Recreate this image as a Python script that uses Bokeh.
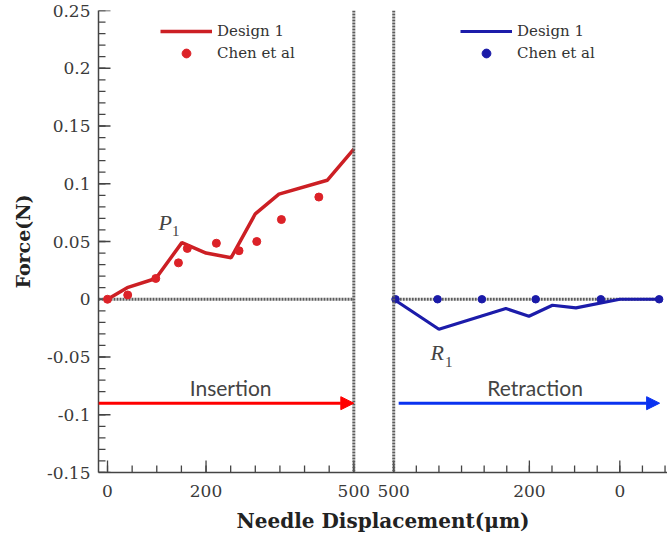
from bokeh.plotting import figure
from bokeh.models import (Range1d, FixedTicker, Span, Label, Arrow, NormalHead,
                          Legend, LegendItem, CustomJSTickFormatter)
from bokeh.embed import file_html
from bokeh.resources import INLINE
import numpy as np

# ---------------- data ----------------
# Insertion: displacement (um) and force (N)
INS_D = [0, 40, 98, 151, 200, 251, 300, 348, 446, 500]
INS_F = [0.0, 0.010, 0.018, 0.049, 0.040, 0.036, 0.074, 0.091, 0.103, 0.130]
CHEN_INS_D = [0, 41, 98, 144, 162, 221, 267, 303, 353, 429]
CHEN_INS_F = [0.0, 0.0037, 0.018, 0.0315, 0.044, 0.0485, 0.042, 0.050, 0.069, 0.0885]
# Retraction: displacement (um, decreasing) and force (N)
RET_D = [500, 400, 252, 201, 149, 97, 0, -87]
RET_F = [0.0, -0.026, -0.008, -0.0147, -0.0052, -0.0075, 0.0, 0.0]
CHEN_RET_D = [496, 403, 305, 186, 42, -87]
CHEN_RET_F = [0.0, 0.0, 0.0, 0.0, 0.0, 0.0]

X_TICK_VALUES = [0, 200, 500]
X_MINOR_LEFT = list(range(0, 501, 50))
X_MINOR_RIGHT = list(range(500, -101, -50))
Y_TICKS = [-0.15, -0.1, -0.05, 0, 0.05, 0.1, 0.15, 0.2, 0.25]

# ---------------- axis mapping for the two segments ----------------
X_MAX = 500
RIGHT_OFFSET = 581.0
RIGHT_SCALE = 0.918


def ret_x(ds):
    return [RIGHT_OFFSET + (X_MAX - d) * RIGHT_SCALE for d in ds]


RED_LINE = "#cc1f24"
RED_DOT = "#dc2228"
BLUE_LINE = "#1c1caa"
BLUE_DOT = "#1a1aa8"
DOT_GRAY = "#5c5c5c"
AX_GRAY = "#444444"
SERIF = "DejaVu Serif"
DASH = "2 1"

W, H = 667, 538
BL, BR, BT, BB = 98, 0, 10, 66
PX_PER_U = 0.4926
X0 = -18.3
X1 = X0 + (W - BL - BR) / PX_PER_U
Y0, Y1 = -0.15, 0.25
PX_PER_F = (H - BT - BB) / (Y1 - Y0)

p = figure(width=W, height=H, output_backend="svg", toolbar_location=None,
           x_range=Range1d(X0, X1), y_range=Range1d(Y0, Y1),
           min_border_left=BL, min_border_right=BR, min_border_top=BT,
           min_border_bottom=BB)
p.grid.visible = False
p.outline_line_color = None

# tick positions / labels
x_major = X_TICK_VALUES + ret_x(X_TICK_VALUES[::-1])
x_minor = X_MINOR_LEFT + ret_x(X_MINOR_RIGHT)
p.xaxis.ticker = FixedTicker(ticks=x_major)
p.xaxis.formatter = CustomJSTickFormatter(args=dict(off=RIGHT_OFFSET, sc=RIGHT_SCALE, xm=X_MAX), code="""
    const v = tick <= (xm + off) / 2 ? tick : xm - (tick - off) / sc;
    return Math.round(v).toString();
""")
y_minor = [float(v) for v in np.round(np.arange(Y0, Y1 + 1e-9, 0.01), 2)]
p.yaxis.ticker = FixedTicker(ticks=Y_TICKS)
p.yaxis.formatter = CustomJSTickFormatter(code="return parseFloat(tick.toFixed(2)).toString();")

for ax in (p.xaxis[0], p.yaxis[0]):
    ax.major_tick_in = 0
    ax.major_tick_out = 0
    ax.minor_tick_in = 0
    ax.minor_tick_out = 0
    ax.axis_line_color = AX_GRAY
    ax.axis_line_width = 1.5
    ax.major_label_text_font = SERIF
    ax.major_label_text_font_size = "17px"
    ax.major_label_text_color = "#3a3a3a"
    ax.axis_label_text_font = SERIF
    ax.axis_label_text_font_style = "bold"
    ax.axis_label_text_color = "#222222"

p.xaxis.major_label_standoff = 12
p.yaxis.major_label_standoff = 8
p.xaxis.axis_label = "Needle Displacement(μm)"
p.xaxis.axis_label_text_font_size = "20px"
p.xaxis.axis_label_standoff = 9
p.yaxis.axis_label = "Force(N)"
p.yaxis.axis_label_text_font_size = "19px"
p.yaxis.axis_label_standoff = 10

# inward ticks drawn as segments (lengths in px converted to data units)
MAJ, MIN = 12, 7
p.segment(x0=x_major, y0=[Y0] * len(x_major), x1=x_major,
          y1=[Y0 + MAJ / PX_PER_F] * len(x_major), line_color=AX_GRAY, line_width=1.3)
p.segment(x0=x_minor, y0=[Y0] * len(x_minor), x1=x_minor,
          y1=[Y0 + MIN / PX_PER_F] * len(x_minor), line_color=AX_GRAY, line_width=1.3)
p.segment(x0=[X0] * len(Y_TICKS), y0=Y_TICKS, x1=[X0 + MAJ / PX_PER_U] * len(Y_TICKS),
          y1=Y_TICKS, line_color=AX_GRAY, line_width=1.3)
p.segment(x0=[X0] * len(y_minor), y0=y_minor, x1=[X0 + MIN / PX_PER_U] * len(y_minor),
          y1=y_minor, line_color=AX_GRAY, line_width=1.3)

# dotted reference lines
for loc in (X_MAX, ret_x([X_MAX])[0]):
    p.add_layout(Span(location=loc, dimension="height", line_color=DOT_GRAY,
                      line_width=3, line_dash=DASH))
p.line([X0, X_MAX], [0, 0], line_color=DOT_GRAY, line_width=3, line_dash=DASH)
p.line(ret_x([X_MAX, CHEN_RET_D[-1]]), [0, 0], line_color=DOT_GRAY, line_width=3,
       line_dash=DASH)

# series
r_ins = p.line(INS_D, INS_F, line_color=RED_LINE, line_width=3.5)
r_cins = p.scatter(CHEN_INS_D, CHEN_INS_F, size=8, fill_color=RED_DOT, line_color=RED_DOT)
r_ret = p.line(ret_x(RET_D), RET_F, line_color=BLUE_LINE, line_width=3.2)
r_cret = p.scatter(ret_x(CHEN_RET_D), CHEN_RET_F, size=7.5, fill_color=BLUE_DOT,
                   line_color=BLUE_DOT)

# arrows
ARROW_Y = -0.09
p.add_layout(Arrow(x_start=X0, y_start=ARROW_Y, x_end=X_MAX, y_end=ARROW_Y,
                   line_color="#ff0000", line_width=3,
                   end=NormalHead(size=13, fill_color="#ff0000", line_color="#ff0000")))
rx = ret_x([489, -88])
p.add_layout(Arrow(x_start=rx[0], y_start=ARROW_Y, x_end=rx[1], y_end=ARROW_Y,
                   line_color="#0a32f0", line_width=3,
                   end=NormalHead(size=13, fill_color="#0a32f0", line_color="#0a32f0")))

# text annotations
SANS = "Lato"
p.add_layout(Label(x=250, y=-0.0765, text="Insertion", text_font=SANS,
                   text_font_size="21px", text_align="center", text_baseline="middle"))
p.add_layout(Label(x=868, y=-0.0765, text="Retraction", text_font=SANS,
                   text_font_size="21px", text_align="center", text_baseline="middle"))
p.add_layout(Label(x=103.5, y=0.056, text="P", text_font="Liberation Serif",
                   text_font_style="italic", text_font_size="22px"))
p.add_layout(Label(x=131, y=0.0545, text="1", text_font="Liberation Serif",
                   text_font_size="15px"))
p.add_layout(Label(x=655.7, y=-0.0565, text="R", text_font="Liberation Serif",
                   text_font_style="italic", text_font_size="22px"))
p.add_layout(Label(x=685, y=-0.0585, text="1", text_font="Liberation Serif",
                   text_font_size="15px"))

# legends
for items, loc in (([("Design 1", r_ins), ("Chen et al", r_cins)], (62, 408)),
                   ([("Design 1", r_ret), ("Chen et al", r_cret)], (362, 408))):
    lg = Legend(items=[LegendItem(label=t, renderers=[r]) for t, r in items],
                location=loc, padding=0, margin=0, spacing=0,
                glyph_width=52, glyph_height=22, label_height=22, label_standoff=5,
                label_text_font=SERIF, label_text_font_size="15px",
                label_text_color="#333333", background_fill_alpha=0,
                border_line_alpha=0)
    p.add_layout(lg, "center")

open("out.html", "w").write(file_html(p, INLINE))
